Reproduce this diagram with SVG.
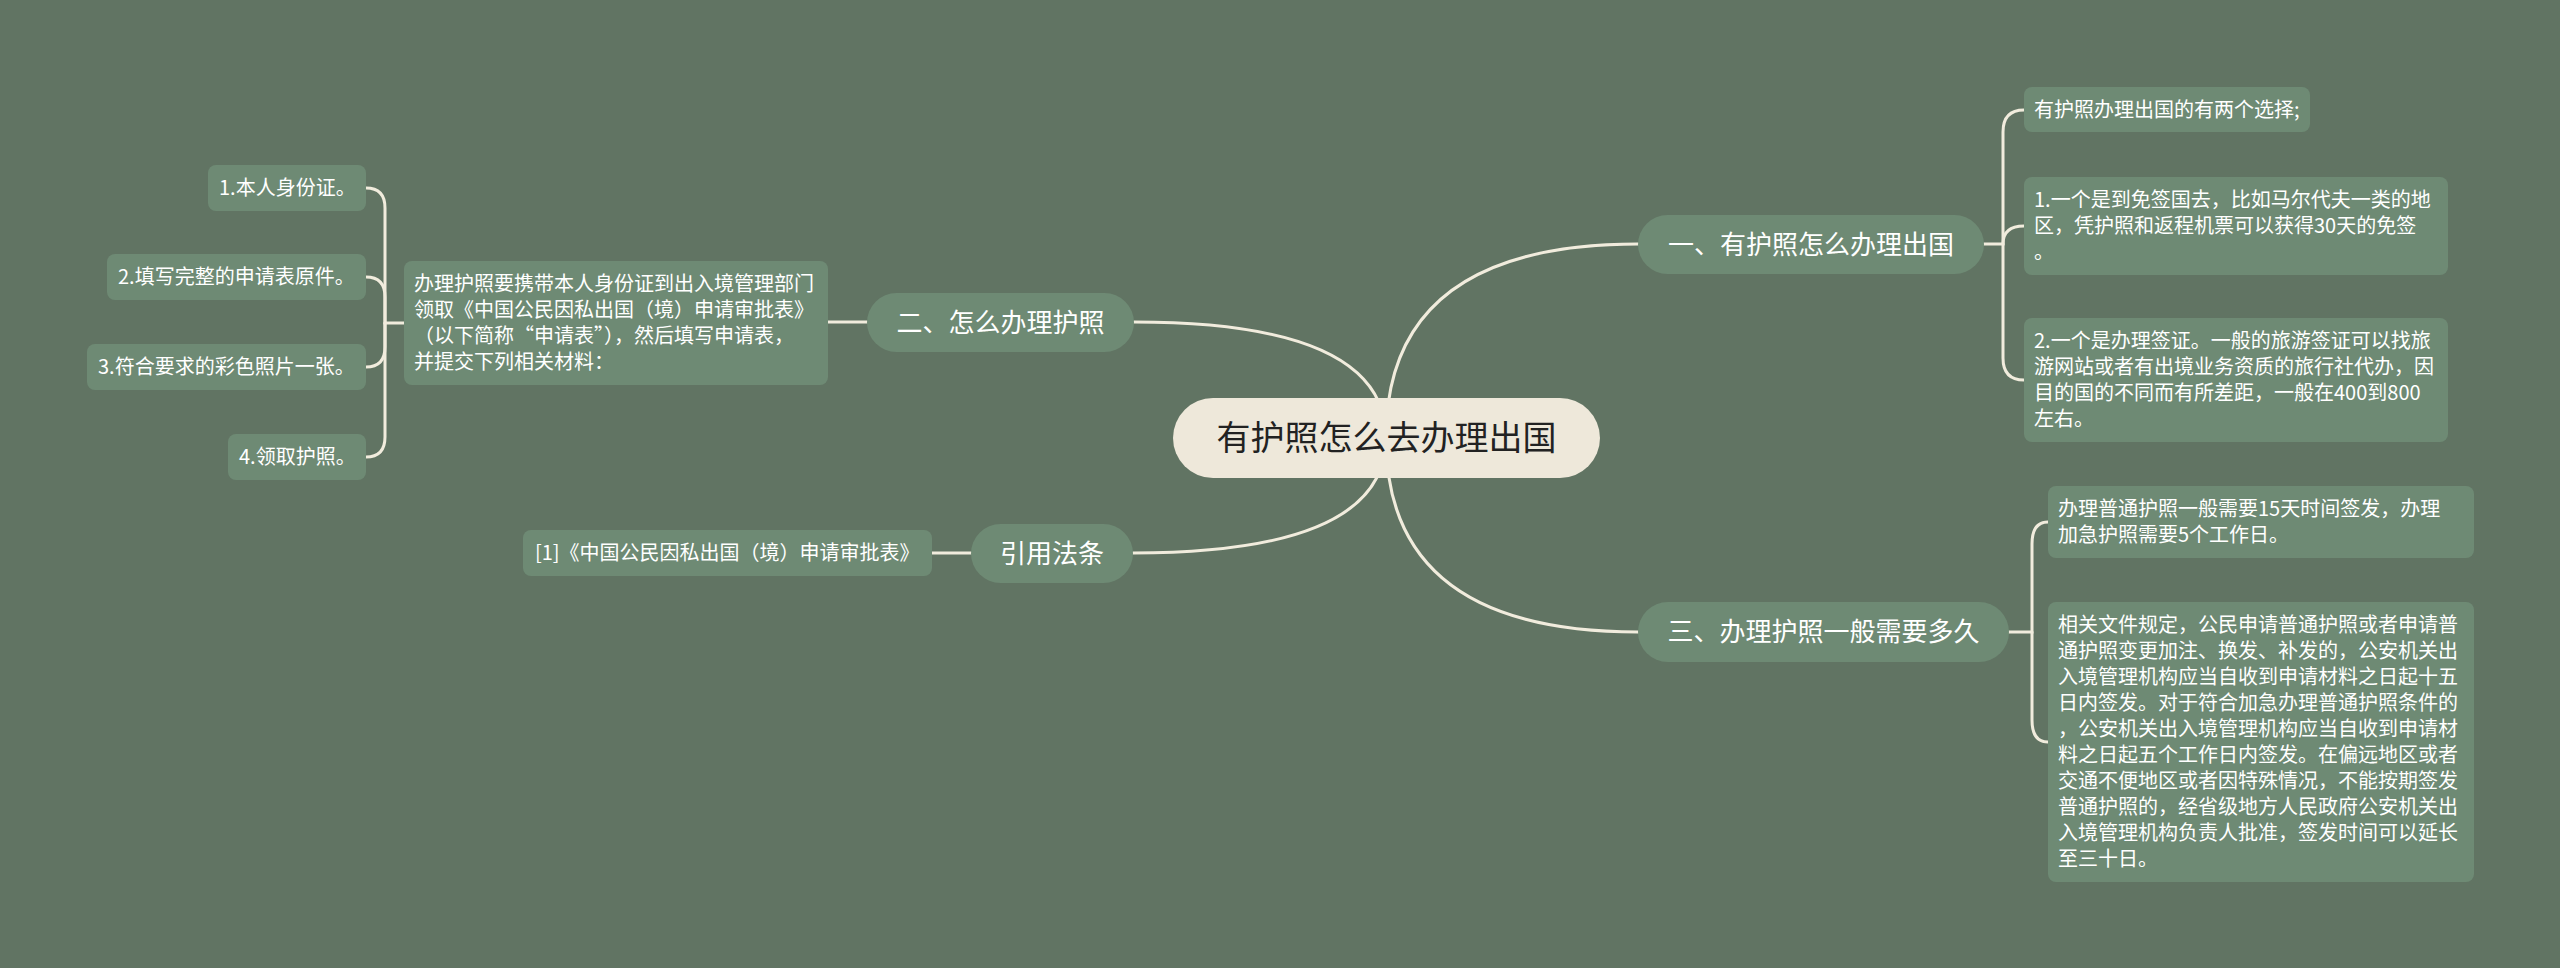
<svg xmlns="http://www.w3.org/2000/svg" width="2560" height="968" viewBox="0 0 2560 968">
<style>
.bg{fill:#617463}
.node{fill:#6e8a74}
.root{fill:#eee8da}
.con{fill:none;stroke:#f1ecdd;stroke-width:3;stroke-linecap:round}
text{font-family:"Noto Sans CJK SC","Noto Sans",sans-serif}
.t{fill:#ffffff;font-size:20px}
.tb{fill:#ffffff;font-size:26px;text-anchor:middle}
.tr{fill:#222222;font-size:34px;text-anchor:middle}
</style>
<rect class="bg" x="0" y="0" width="2560" height="968"/>
<g id="connectors">
<path class="con" d="M1386 438 Q1386 244 1638 244"/>
<path class="con" d="M1386 438 Q1386 632 1638 632"/>
<path class="con" d="M1386 438 Q1386 322 1134 322"/>
<path class="con" d="M1386 438 Q1386 553 1133 553"/>
<path class="con" d="M1984 244 H2003 V132 Q2003 110 2024 110"/>
<path class="con" d="M2003 244 Q2003 226 2024 226"/>
<path class="con" d="M2003 244 V358 Q2003 380 2024 380"/>
<path class="con" d="M2009 632 H2032 V544 Q2032 522 2048 522"/>
<path class="con" d="M2032 632 V720 Q2032 742 2048 742"/>
<path class="con" d="M867 322 H828"/>
<path class="con" d="M404 323 H385 V208 Q385 188 366 188"/>
<path class="con" d="M385 323 V297 Q385 277 366 277"/>
<path class="con" d="M385 323 V347 Q385 367 366 367"/>
<path class="con" d="M385 323 V437 Q385 457 366 457"/>
<path class="con" d="M971 553 H932"/>
</g>
<g id="root">
<rect class="root" x="1173" y="398" width="427" height="80" rx="40"/>
<text class="tr" x="1386.5" y="450">有护照怎么去办理出国</text>
</g>
<g id="branch1">
<rect class="node" x="1638" y="215" width="346" height="59" rx="29.5"/>
<text class="tb" x="1811" y="254">一、有护照怎么办理出国</text>
</g>
<g id="b1c1">
<rect class="node" x="2024" y="87" width="286" height="45" rx="8"/>
<text class="t" x="2034" y="117">有护照办理出国的有两个选择;</text>
</g>
<g id="b1c2">
<rect class="node" x="2024" y="177" width="424" height="98" rx="8"/>
<text class="t" x="2034" y="207">1.一个是到免签国去，比如马尔代夫一类的地</text>
<text class="t" x="2034" y="233">区，凭护照和返程机票可以获得30天的免签</text>
<text class="t" x="2034" y="259">。</text>
</g>
<g id="b1c3">
<rect class="node" x="2024" y="318" width="424" height="124" rx="8"/>
<text class="t" x="2034" y="348">2.一个是办理签证。一般的旅游签证可以找旅</text>
<text class="t" x="2034" y="374">游网站或者有出境业务资质的旅行社代办，因</text>
<text class="t" x="2034" y="400">目的国的不同而有所差距，一般在400到800</text>
<text class="t" x="2034" y="426">左右。</text>
</g>
<g id="branch3">
<rect class="node" x="1638" y="602" width="371" height="60" rx="30"/>
<text class="tb" x="1823.5" y="641">三、办理护照一般需要多久</text>
</g>
<g id="b3c1">
<rect class="node" x="2048" y="486" width="426" height="72" rx="8"/>
<text class="t" x="2058" y="516">办理普通护照一般需要15天时间签发，办理</text>
<text class="t" x="2058" y="542">加急护照需要5个工作日。</text>
</g>
<g id="b3c2">
<rect class="node" x="2048" y="602" width="426" height="280" rx="8"/>
<text class="t" x="2058" y="632">相关文件规定，公民申请普通护照或者申请普</text>
<text class="t" x="2058" y="658">通护照变更加注、换发、补发的，公安机关出</text>
<text class="t" x="2058" y="684">入境管理机构应当自收到申请材料之日起十五</text>
<text class="t" x="2058" y="710">日内签发。对于符合加急办理普通护照条件的</text>
<text class="t" x="2058" y="736">，公安机关出入境管理机构应当自收到申请材</text>
<text class="t" x="2058" y="762">料之日起五个工作日内签发。在偏远地区或者</text>
<text class="t" x="2058" y="788">交通不便地区或者因特殊情况，不能按期签发</text>
<text class="t" x="2058" y="814">普通护照的，经省级地方人民政府公安机关出</text>
<text class="t" x="2058" y="840">入境管理机构负责人批准，签发时间可以延长</text>
<text class="t" x="2058" y="866">至三十日。</text>
</g>
<g id="branch2">
<rect class="node" x="867" y="293" width="267" height="59" rx="29.5"/>
<text class="tb" x="1000.5" y="332">二、怎么办理护照</text>
</g>
<g id="b2c">
<rect class="node" x="404" y="261" width="424" height="124" rx="8"/>
<text class="t" x="414" y="291">办理护照要携带本人身份证到出入境管理部门</text>
<text class="t" x="414" y="317">领取《中国公民因私出国（境）申请审批表》</text>
<text class="t" x="414" y="343">（以下简称“申请表”），然后填写申请表，</text>
<text class="t" x="414" y="369">并提交下列相关材料：</text>
</g>
<g id="b2k1">
<rect class="node" x="208" y="165" width="158" height="46" rx="8"/>
<text class="t" x="219" y="195">1.本人身份证。</text>
</g>
<g id="b2k2">
<rect class="node" x="107" y="254" width="259" height="46" rx="8"/>
<text class="t" x="118" y="284">2.填写完整的申请表原件。</text>
</g>
<g id="b2k3">
<rect class="node" x="87" y="344" width="279" height="46" rx="8"/>
<text class="t" x="98" y="374">3.符合要求的彩色照片一张。</text>
</g>
<g id="b2k4">
<rect class="node" x="228" y="434" width="138" height="46" rx="8"/>
<text class="t" x="239" y="464">4.领取护照。</text>
</g>
<g id="branch4">
<rect class="node" x="971" y="524" width="162" height="59" rx="29.5"/>
<text class="tb" x="1052" y="563">引用法条</text>
</g>
<g id="b4c">
<rect class="node" x="523" y="530" width="409" height="46" rx="8"/>
<text class="t" x="535" y="560">[1]《中国公民因私出国（境）申请审批表》</text>
</g>
</svg>
